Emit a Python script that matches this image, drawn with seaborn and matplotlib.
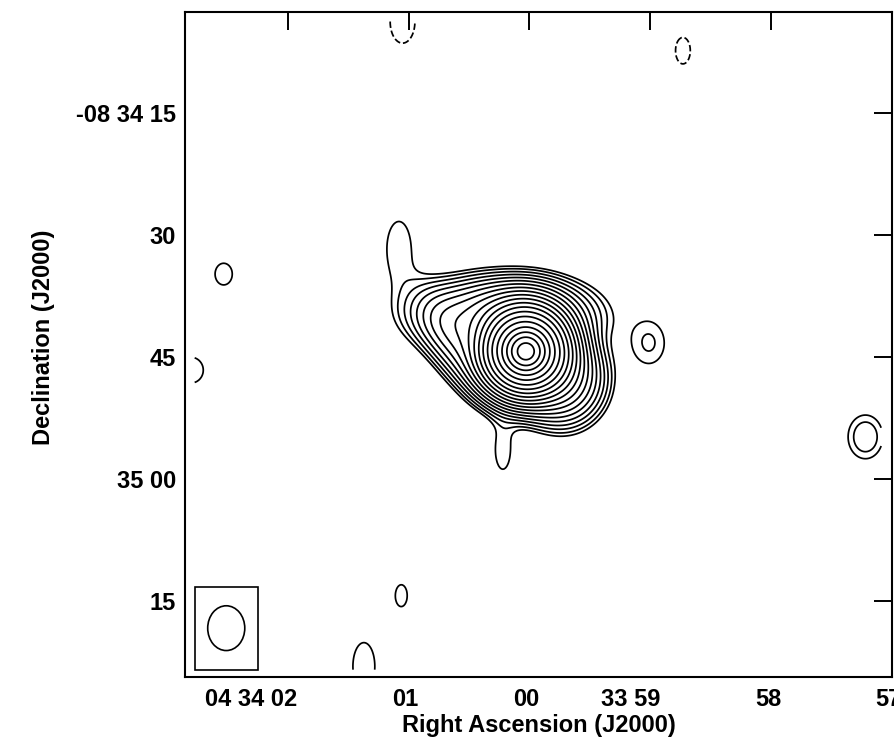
import numpy as np
import matplotlib
matplotlib.use("Agg")
import matplotlib.pyplot as plt
import seaborn as sns
from matplotlib.patches import Ellipse, Rectangle
from matplotlib.transforms import ScaledTranslation

# RA in seconds of time from 04 34 00, Dec in arcsec from -08 34 00
# each source component: position, peak (in units of map rms), widths in arcsec, angle in deg
comp_name = ["core", "core halo", "upper plateau", "lower plateau", "west plateau", "finger", "tail",
             "companion", "east src", "blob1", "blob2", "blob3", "blob4", "neg1", "neg2"]
comp_ra = [0.03, 0.03, 0.20, -0.27, 0.57, 1.08, 0.22, -0.99, -2.78, 2.53, 2.80, 1.06, 1.37, 1.05, -1.27]
comp_dec = [-44.3, -44.3, -39.8, -47.8, -43.5, -31.6, -56.5, -43.3, -54.8, -34.8, -46.6, -74.3, -83.0, -3.8, -7.35]
comp_amp = [1400, 1280, 60, 50, 25, 3.9, 3.8, 4.4, 5.6, 3.5, 4.1, 3.5, 4.1, -5.0, -3.6]
comp_sx = [1.2, 2.6, 5.3, 2.7, 4.0, 2.0, 1.3, 2.1, 1.9, 1.9, 1.9, 1.3, 1.7, 1.5, 1.5]
comp_sy = [1.2, 2.6, 2.4, 2.9, 2.0, 4.5, 3.3, 2.8, 2.4, 2.4, 2.0, 2.4, 3.7, 2.6, 2.7]
comp_ang = [0, 0, 0, 0, -54, 0, 0, 0, 0, 0, 0, 0, 0, 0, 0]

levels = [-3, 3, 4.2, 6, 8.5, 12, 17, 24, 34, 48, 68, 96, 136, 192, 272, 384, 543, 768, 1086, 1536, 2172]

ra_ticks = [2, 1, 0, -1, -2, -3]
ra_labels = ["04 34 02", "01", "00", "33 59", "58", "57"]
dec_ticks = [-15, -30, -45, -60, -75]
dec_labels = ["-08 34 15", "30", "45", "35 00", "15"]

# map extent and plot limits
map_ra = (2.77, -2.91)
map_dec = (-3.77, -83.4)
lim_ra = (2.85, -2.99)
lim_dec = (-84.3, -2.6)

beam_major, beam_minor = 5.5, 4.55
beam_box_w, beam_box_h = 7.75, 10.2

cosd = np.cos(np.radians(8.57))
sec_to_arcsec = 15 * cosd

ra = np.linspace(map_ra[0], map_ra[1], 500)
dec = np.linspace(map_dec[0], map_dec[1], 500)
RA, DEC = np.meshgrid(ra, dec)
Z = np.zeros_like(RA)
for r0, d0, a, sx, sy, ang in zip(comp_ra, comp_dec, comp_amp, comp_sx, comp_sy, comp_ang):
    u = -(RA - r0) * sec_to_arcsec
    v = DEC - d0
    t = np.radians(ang)
    up = u * np.cos(t) + v * np.sin(t)
    vp = -u * np.sin(t) + v * np.cos(t)
    Z += a * np.exp(-0.5 * ((up / sx) ** 2 + (vp / sy) ** 2))

sns.set_theme(style="white")
plt.rcParams["font.family"] = ["Liberation Sans", "DejaVu Sans"]
plt.rcParams["font.weight"] = "bold"
plt.rcParams["axes.labelweight"] = "bold"

fig = plt.figure(figsize=(8.94, 7.38), dpi=100)
ax = fig.add_axes([185 / 894, 61 / 738, 707 / 894, 665 / 738])

ax.contour(RA, DEC, Z, levels=levels, colors="black", linewidths=1.25,
           negative_linestyles="dashed")

# beam in the lower left corner
bx = map_ra[0] - beam_box_w / 2 / sec_to_arcsec
by = map_dec[1] + beam_box_h / 2
ax.add_patch(Rectangle((map_ra[0], map_dec[1]), -beam_box_w / sec_to_arcsec, beam_box_h,
                       fill=False, edgecolor="black", linewidth=1.2))
ax.add_patch(Ellipse((bx, by), beam_minor / sec_to_arcsec, beam_major,
                     fill=False, edgecolor="black", linewidth=1.2))

ax.set_xlim(*lim_ra)
ax.set_ylim(*lim_dec)
ax.set_xticks(ra_ticks)
ax.set_xticklabels(ra_labels)
ax.set_yticks(dec_ticks)
ax.set_yticklabels(dec_labels)
ax.tick_params(direction="in", length=13, width=1.4, labelsize=17, color="black",
               top=True, right=True, labelcolor="black")
ax.tick_params(axis="x", pad=8)
ax.tick_params(axis="y", pad=6.5)
shift = ScaledTranslation(10 / 100, 0, fig.dpi_scale_trans)
for lab in ax.get_xticklabels():
    lab.set_horizontalalignment("right")
    lab.set_transform(lab.get_transform() + shift)
for s in ax.spines.values():
    s.set_linewidth(1.5)
    s.set_color("black")

ax.set_xlabel("Right Ascension (J2000)", fontsize=17, labelpad=2, color="black")
ax.set_ylabel("Declination (J2000)", fontsize=17, color="black")
ax.yaxis.set_label_coords(-0.184, 0.511)

fig.savefig("out.png", dpi=100, facecolor="white")
